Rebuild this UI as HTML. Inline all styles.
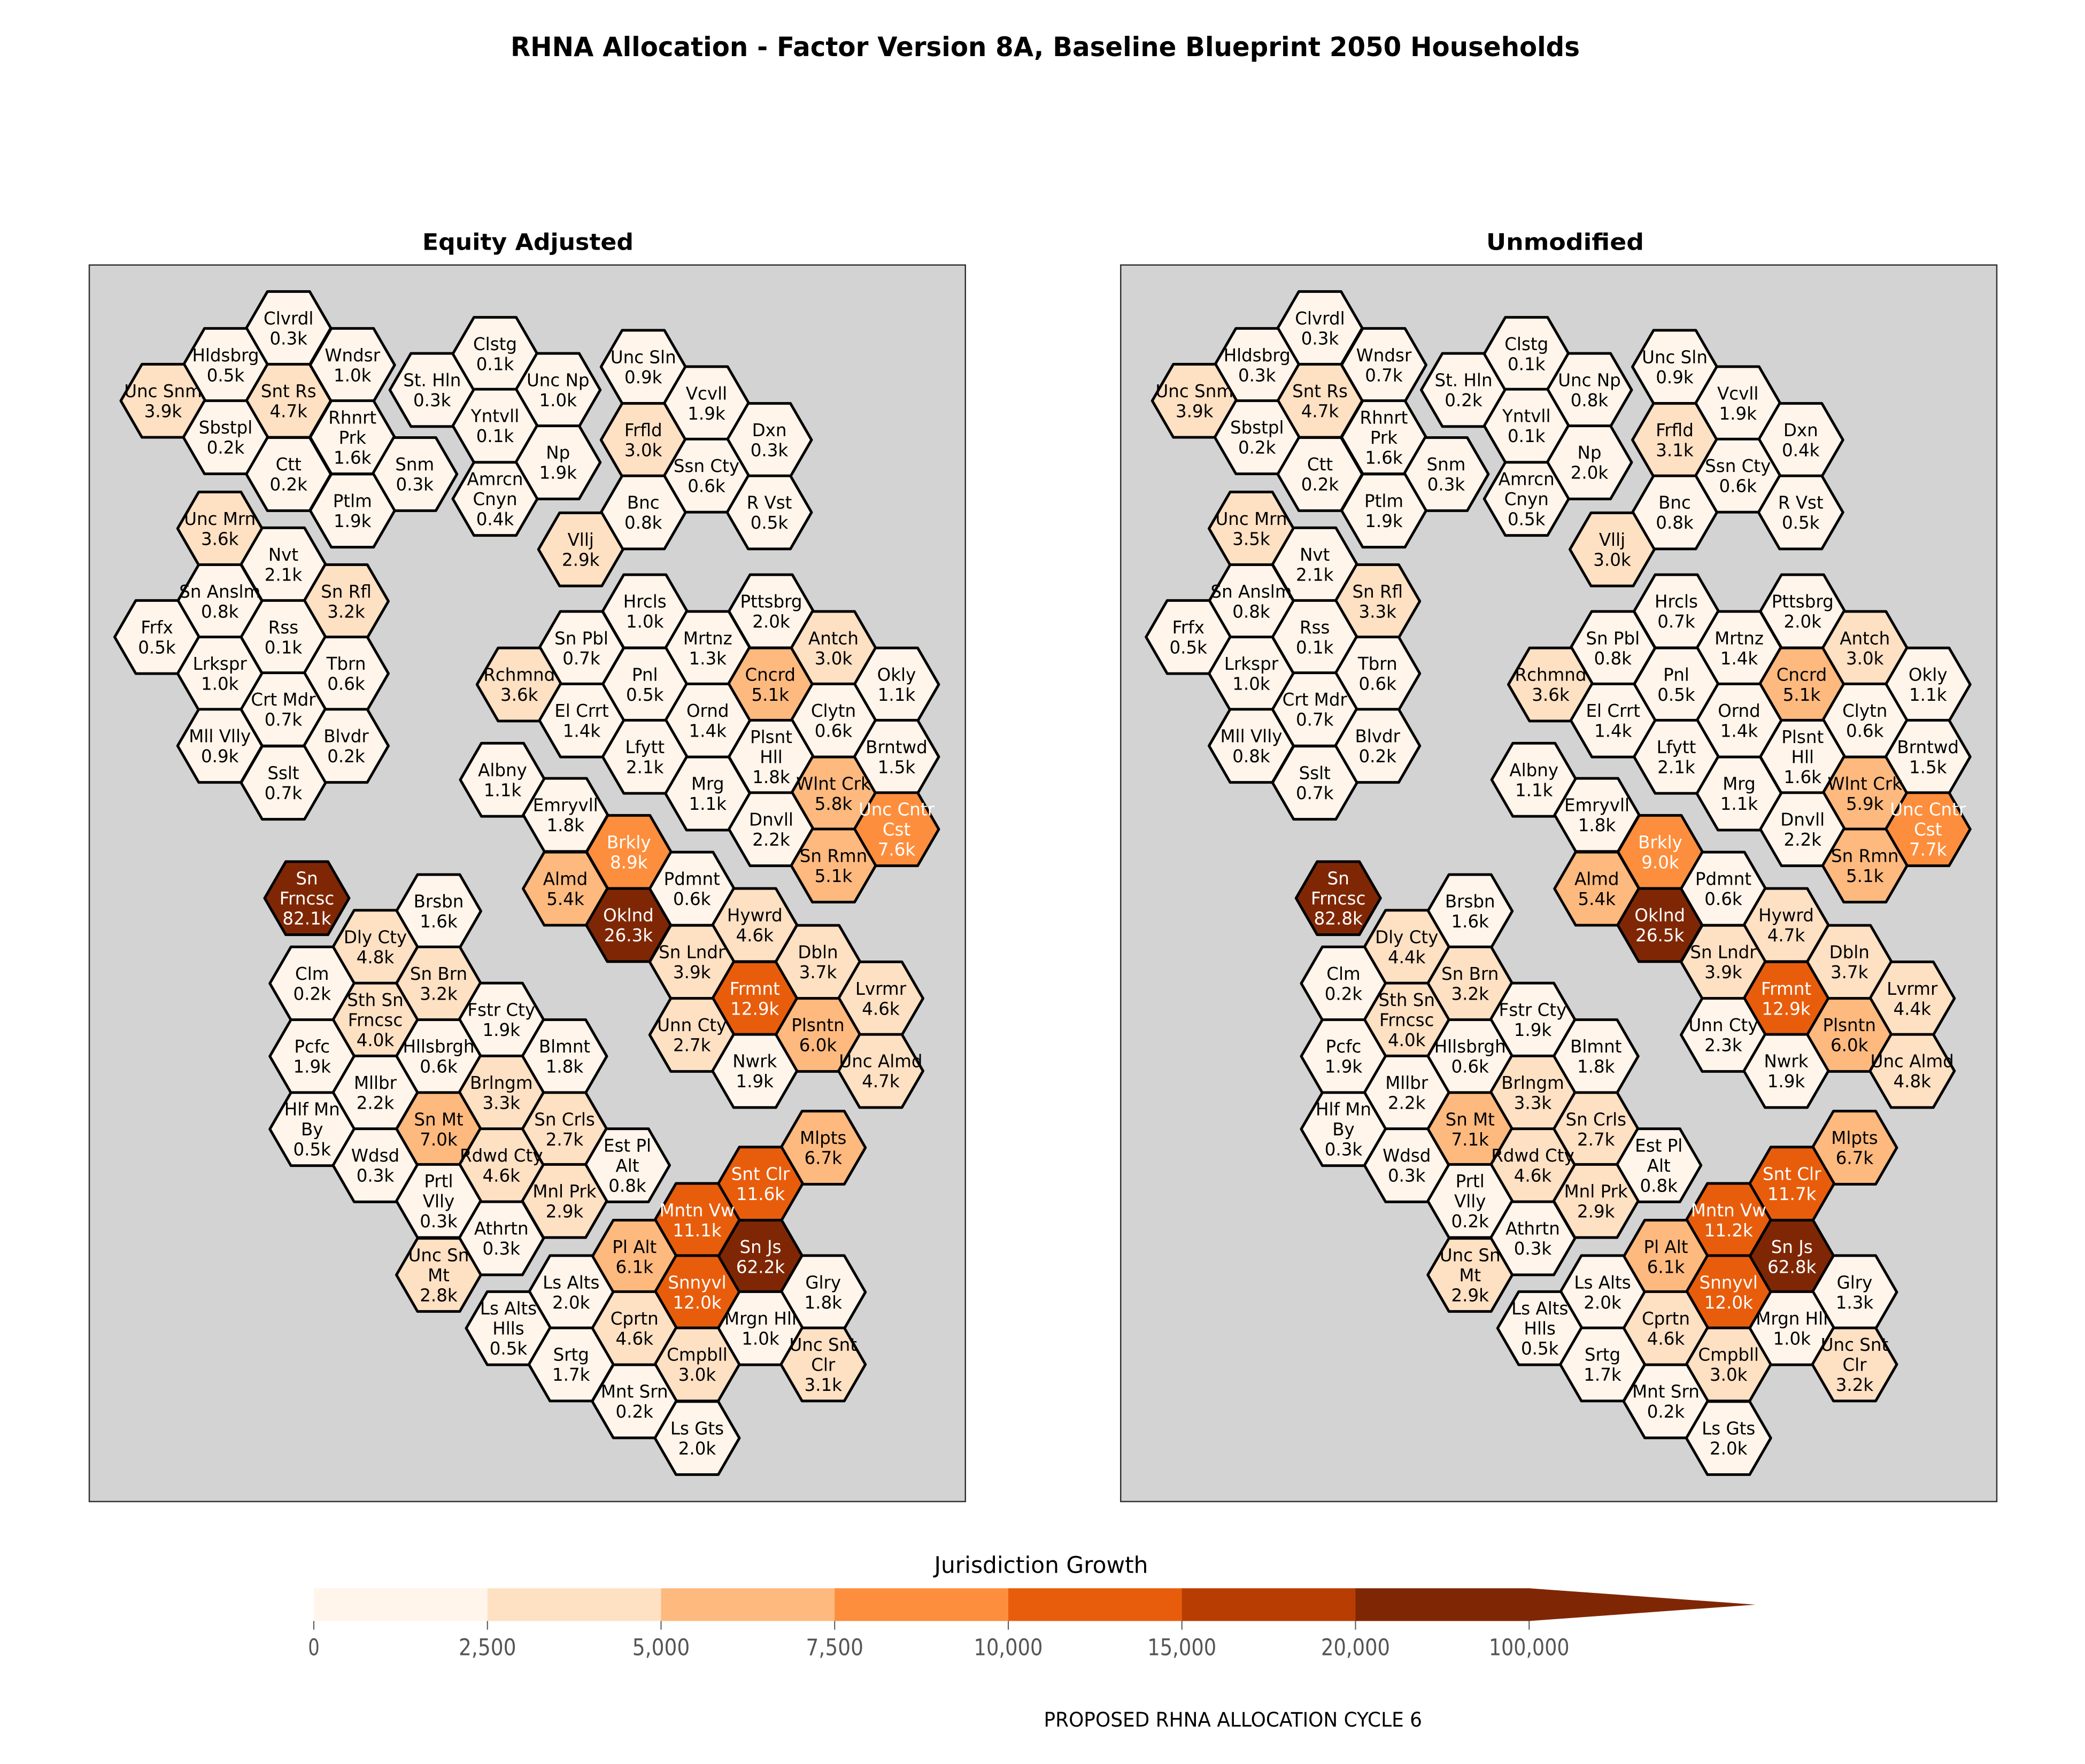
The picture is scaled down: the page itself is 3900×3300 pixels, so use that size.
<!DOCTYPE html>
<html><head><meta charset="utf-8">
<style>html,body{margin:0;padding:0;background:#fff}svg{display:block}</style>
</head><body>
<svg id="chart" xmlns="http://www.w3.org/2000/svg" width="3900" height="3300" viewBox="0 0 1560 1320" font-family="'DejaVu Sans','Liberation Sans',sans-serif">
<rect x="0" y="0" width="1560" height="1320" fill="#fff"/>
<text x="782" y="42" text-anchor="middle" font-size="20" font-weight="bold" textLength="800" lengthAdjust="spacingAndGlyphs">RHNA Allocation - Factor Version 8A, Baseline Blueprint 2050 Households</text>
<text x="395" y="187" text-anchor="middle" font-size="17" font-weight="bold" textLength="158" lengthAdjust="spacingAndGlyphs">Equity Adjusted</text>
<text x="1171" y="187" text-anchor="middle" font-size="17" font-weight="bold" textLength="118" lengthAdjust="spacingAndGlyphs">Unmodified</text>
<rect x="66.8" y="198.3" width="655.5" height="925.3" fill="#d3d3d3" stroke="#333" stroke-width="1"/>
<rect x="838.5" y="198.3" width="655.5" height="925.3" fill="#d3d3d3" stroke="#333" stroke-width="1"/>
<g id="hexes"></g>
<g id="labels"></g>
<g id="colorbar"></g>
<text x="779" y="1177" text-anchor="middle" font-size="17" textLength="160" lengthAdjust="spacingAndGlyphs">Jurisdiction Growth</text>
<text x="922.5" y="1292" text-anchor="middle" font-size="15" textLength="283" lengthAdjust="spacingAndGlyphs">PROPOSED RHNA ALLOCATION CYCLE 6</text>
</svg>
<script>
const names = ["Clvrdl","Hldsbrg","Wndsr","Unc Snm","Snt Rs","Sbstpl","Rhnrt\nPrk","Ctt","Snm","Ptlm",
"St. Hln","Clstg","Unc Np","Yntvll","Np","Amrcn\nCnyn","Unc Sln","Vcvll","Frfld","Dxn",
"Ssn Cty","Bnc","R Vst","Vllj","Unc Mrn","Nvt","Sn Anslm","Sn Rfl","Frfx","Rss",
"Lrkspr","Tbrn","Crt Mdr","Mll Vlly","Blvdr","Sslt","Hrcls","Pttsbrg","Sn Pbl","Mrtnz",
"Antch","Rchmnd","Pnl","Cncrd","Okly","El Crrt","Ornd","Clytn","Lfytt","Plsnt\nHll",
"Brntwd","Albny","Mrg","Wlnt Crk","Emryvll","Dnvll","Unc Cntr\nCst","Brkly","Sn Rmn","Almd",
"Pdmnt","Oklnd","Hywrd","Sn Lndr","Dbln","Frmnt","Lvrmr","Unn Cty","Plsntn","Nwrk",
"Unc Almd","Sn\nFrncsc","Brsbn","Dly Cty","Clm","Sn Brn","Sth Sn\nFrncsc","Fstr Cty","Pcfc","Hllsbrgh",
"Blmnt","Mllbr","Brlngm","Hlf Mn\nBy","Sn Mt","Sn Crls","Wdsd","Rdwd Cty","Est Pl\nAlt","Prtl\nVlly",
"Mnl Prk","Athrtn","Unc Sn\nMt","Mlpts","Snt Clr","Mntn Vw","Sn Js","Pl Alt","Snnyvl","Glry",
"Ls Alts","Cprtn","Mrgn Hll","Ls Alts\nHlls","Srtg","Cmpbll","Unc Snt\nClr","Mnt Srn","Ls Gts"];
const equityValues = [0.3,0.5,1.0,3.9,4.7,0.2,1.6,0.2,0.3,1.9,
0.3,0.1,1.0,0.1,1.9,0.4,0.9,1.9,3.0,0.3,
0.6,0.8,0.5,2.9,3.6,2.1,0.8,3.2,0.5,0.1,
1.0,0.6,0.7,0.9,0.2,0.7,1.0,2.0,0.7,1.3,
3.0,3.6,0.5,5.1,1.1,1.4,1.4,0.6,2.1,1.8,
1.5,1.1,1.1,5.8,1.8,2.2,7.6,8.9,5.1,5.4,
0.6,26.3,4.6,3.9,3.7,12.9,4.6,2.7,6.0,1.9,
4.7,82.1,1.6,4.8,0.2,3.2,4.0,1.9,1.9,0.6,
1.8,2.2,3.3,0.5,7.0,2.7,0.3,4.6,0.8,0.3,
2.9,0.3,2.8,6.7,11.6,11.1,62.2,6.1,12.0,1.8,
2.0,4.6,1.0,0.5,1.7,3.0,3.1,0.2,2.0];
const unmodifiedValues = [0.3,0.3,0.7,3.9,4.7,0.2,1.6,0.2,0.3,1.9,
0.2,0.1,0.8,0.1,2.0,0.5,0.9,1.9,3.1,0.4,
0.6,0.8,0.5,3.0,3.5,2.1,0.8,3.3,0.5,0.1,
1.0,0.6,0.7,0.8,0.2,0.7,0.7,2.0,0.8,1.4,
3.0,3.6,0.5,5.1,1.1,1.4,1.4,0.6,2.1,1.6,
1.5,1.1,1.1,5.9,1.8,2.2,7.7,9.0,5.1,5.4,
0.6,26.5,4.7,3.9,3.7,12.9,4.4,2.3,6.0,1.9,
4.8,82.8,1.6,4.4,0.2,3.2,4.0,1.9,1.9,0.6,
1.8,2.2,3.3,0.3,7.1,2.7,0.3,4.6,0.8,0.2,
2.9,0.3,2.9,6.7,11.7,11.2,62.8,6.1,12.0,1.3,
2.0,4.6,1.0,0.5,1.7,3.0,3.2,0.2,2.0];
const binEdges = [0,2500,5000,7500,10000,15000,20000,100000];
const tickLabels = ["0","2,500","5,000","7,500","10,000","15,000","20,000","100,000"];
const binColors = ["#fff5eb","#fee0c3","#fdb97e","#fd8e3d","#e85d0c","#b73d03","#7f2704"];

// hex layout (map geometry, left panel; right panel shifted)
const hexLayout = [[215.9,245.5],[168.8,273.1],[263.7,273.1],[122,299.9],[215.9,299.9],[168.8,327.2],[263.7,327.2],[215.9,354.8],[310.3,354.8],[263.7,382.1],
[323.3,291.8],[370.4,264.8],[417.5,291.8],[370.4,318.6],[417.5,346],[370.4,373.3],[481.3,274.5],[528.6,301.7],[481.3,329.2],[575.6,329.2],
[528.6,355.9],[481.3,383.4],[575.6,383.4],[434.5,411.1],[164.5,395.5],[212,422.3],[164.5,449.9],[259,449.9],[117.4,476.7],[212,476.7],
[164.5,504],[259,504],[212,530.8],[164.5,558.1],[259,558.1],[212,585.7],[482.5,457.4],[577,457.4],[435,484.9],[529.5,484.9],
[623.6,484.9],[388.5,512.2],[482.5,512.2],[576.3,512.2],[670.8,512.2],[435.2,539.1],[529.5,539.1],[623.6,539.1],[482.5,566.3],[577,566.3],
[670.8,566.3],[376,583.5],[529.5,593.8],[623.6,593.8],[423.1,609.8],[577,620.5],[670.8,620.5],[470.5,637.5],[623.6,647.7],[423,665],
[517.7,665],[470.2,692.2],[564.7,692.2],[517.7,719.8],[612,719.8],[564.7,747.1],[659,747.1],[517.7,774.4],[612,774.4],[564.7,801.4],
[659,801.4],[229.6,672.1],[328.2,681.8],[280.8,708.5],[233.5,735.9],[328.2,735.9],[280.8,763],[375.1,763],[233.5,790.4],[328.2,790.4],
[422.4,790.4],[280.8,817.5],[375.1,817.5],[233.5,844.9],[328.2,844.9],[422.4,844.9],[280.8,872],[375.1,872],[469.4,872],[328.2,898.7],
[422.4,898.7],[375.1,926.6],[328.2,954],[615.9,858.8],[569,885.7],[521.6,912.9],[569,940.4],[474.7,940.4],[521.6,966.9],[615.9,966.9],
[427.3,966.9],[474.7,993.9],[569,993.9],[380.4,993.9],[427.3,1021],[521.6,1021],[615.9,1021],[474.7,1048.6],[521.6,1076.1]];
const panelOffsets = [0, 771.7];

const NS = "http://www.w3.org/2000/svg";
const R = 31.6, HH = 27.35;
function binIndex(v){ for(let i=binEdges.length-2;i>=0;i--){ if(v>=binEdges[i]) return Math.min(i,binColors.length-1);} return 0; }
function hexPoints(cx,cy){ return [[cx-R,cy],[cx-R/2,cy-HH],[cx+R/2,cy-HH],[cx+R,cy],[cx+R/2,cy+HH],[cx-R/2,cy+HH]].map(p=>p[0].toFixed(2)+","+p[1].toFixed(2)).join(" "); }
const gH = document.getElementById("hexes"), gL = document.getElementById("labels");
[equityValues, unmodifiedValues].forEach((vals, p) => {
  const dx = panelOffsets[p];
  const pname = p===0 ? "equity" : "unmodified";
  names.forEach((nm, i) => {
    const cx = hexLayout[i][0]+dx, cy = hexLayout[i][1];
    const v = vals[i]*1000;
    const poly = document.createElementNS(NS,"polygon");
    poly.setAttribute("points", hexPoints(cx,cy));
    poly.setAttribute("fill", binColors[binIndex(v)]);
    poly.setAttribute("stroke", "#000");
    poly.setAttribute("stroke-width", "2");
    poly.setAttribute("stroke-linejoin", "round");
    
    
    gH.appendChild(poly);
    const lines = nm.split("\n").concat([vals[i].toFixed(1)+"k"]);
    const t = document.createElementNS(NS,"text");
    t.setAttribute("text-anchor","middle");
    t.setAttribute("font-size","13");
    t.setAttribute("fill", v>=7500 ? "#fff" : "#000");
    
    
    const n = lines.length;
    lines.forEach((ln, k) => {
      const ts = document.createElementNS(NS,"tspan");
      ts.setAttribute("x", cx.toFixed(2));
      ts.setAttribute("y", (cy + (k-(n-1)/2)*15 + 4.7).toFixed(2));
      ts.textContent = ln;
      t.appendChild(ts);
    });
    gL.appendChild(t);
  });
});
// colorbar
const gC = document.getElementById("colorbar");
const cbX0 = 234.8, cbSeg = 129.9, cbTop = 1188.5, cbBot = 1213;
function cbX(i){ return cbX0 + i*cbSeg; }
binColors.forEach((c,i)=>{
  let el;
  if(i < binColors.length-1){
    el = document.createElementNS(NS,"rect");
    el.setAttribute("x", cbX(i).toFixed(2)); el.setAttribute("y", cbTop);
    el.setAttribute("width", (cbSeg+0.5).toFixed(2)); el.setAttribute("height", cbBot-cbTop);
  } else {
    el = document.createElementNS(NS,"polygon");
    const x0 = cbX(i), x1 = cbX(i+1), tip = x1 + 169.4;
    el.setAttribute("points", `${x0},${cbTop} ${x1},${cbTop} ${tip},${(cbTop+cbBot)/2} ${x1},${cbBot} ${x0},${cbBot}`);
  }
  el.setAttribute("fill", c);
  
  
  gC.appendChild(el);
});
tickLabels.forEach((lab,i)=>{
  const x = cbX(i);
  const tk = document.createElementNS(NS,"line");
  tk.setAttribute("x1",x); tk.setAttribute("x2",x); tk.setAttribute("y1",cbBot); tk.setAttribute("y2",cbBot+6.5);
  tk.setAttribute("stroke","#555"); tk.setAttribute("stroke-width","0.8");
  
  
  gC.appendChild(tk);
  const tx = document.createElementNS(NS,"text");
  tx.setAttribute("x", x); tx.setAttribute("y", 1238.5);
  tx.setAttribute("text-anchor","middle"); tx.setAttribute("font-size","17"); tx.setAttribute("fill","#555");
  tx.setAttribute("textLength", (lab.length*8.6).toFixed(1)); tx.setAttribute("lengthAdjust","spacingAndGlyphs");
  tx.textContent = lab;
  
  
  gC.appendChild(tx);
});
</script>
</body></html>
